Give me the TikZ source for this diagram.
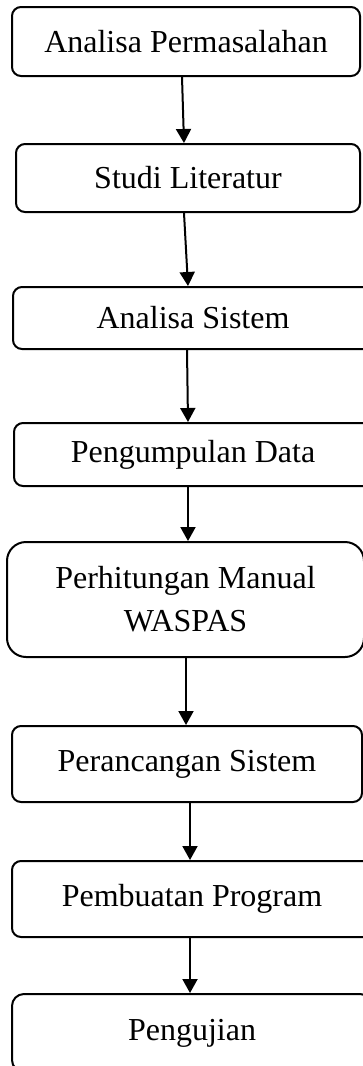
\documentclass[tikz,border=0pt]{standalone}
\usepackage{fontspec}
\setmainfont{Liberation Serif}
\usetikzlibrary{arrows.meta}
\begin{document}
\begin{tikzpicture}[x=1pt,y=-1pt,
  stepbox/.style={draw=black, line width=2pt, rounded corners=9pt, inner sep=0pt,
    font=\fontsize{32}{43}\selectfont, align=center},
  flow/.style={draw=black, line width=2pt, -{Triangle[width=15pt,length=14pt]}}]
\useasboundingbox (0,0) rectangle (363,1066);
\clip (0,0) rectangle (363,1066);
\node[stepbox, minimum width=348pt, minimum height=69pt] (b1) at (186,41.5) {Analisa Permasalahan};
\node[stepbox, minimum width=344pt, minimum height=68pt] (b2) at (188,178) {Studi Literatur};
\node[stepbox, minimum width=360pt, minimum height=62pt] (b3) at (193,318) {Analisa Sistem};
\node[stepbox, minimum width=358pt, minimum height=63pt] (b4) at (193,454.5) {Pengumpulan Data};
\node[stepbox, rounded corners=19pt, minimum width=357pt, minimum height=115pt] (b5) at (185.5,599.5) {Perhitungan Manual\\WASPAS};
\node[stepbox, minimum width=350pt, minimum height=76pt] (b6) at (187,764) {Perancangan Sistem};
\node[stepbox, minimum width=360pt, minimum height=76pt] (b7) at (192,899) {Pembuatan Program};
\node[stepbox, rounded corners=12pt, minimum width=360pt, minimum height=78pt] (b8) at (192,1033) {Pengujian};
\draw[flow] ([xshift=-4pt]b1.south) -- ([xshift=-4pt]b2.north);
\draw[flow] ([xshift=-4pt]b2.south) -- ([xshift=-5pt]b3.north);
\draw[flow] ([xshift=-6pt]b3.south) -- ([xshift=-5pt]b4.north);
\draw[flow] ([xshift=-5pt]b4.south) -- ([xshift=2.5pt]b5.north);
\draw[flow] ([xshift=0.5pt]b5.south) -- ([xshift=-1pt]b6.north);
\draw[flow] ([xshift=3pt]b6.south) -- ([xshift=-2pt]b7.north);
\draw[flow] ([xshift=-2pt]b7.south) -- ([xshift=-2pt]b8.north);
\end{tikzpicture}
\end{document}
